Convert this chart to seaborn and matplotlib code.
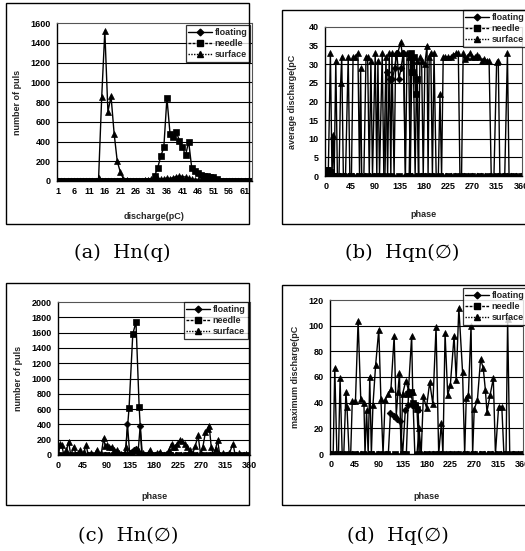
import matplotlib
matplotlib.use("Agg")
import matplotlib.pyplot as plt
import matplotlib.patches as mpatches
import seaborn as sns
import pandas as pd

sns.set_theme(style="white")
plt.rcParams['font.family'] = ['Liberation Sans', 'DejaVu Sans']

# ---------------- (a) Hn(q) ----------------
cat_a = [1, 2, 3, 4, 5, 6, 7, 8, 9, 10, 11, 12, 13, 14, 15, 16, 17, 18, 19, 20,
         21, 22, 23, 24, 25, 26, 27, 28, 29, 30, 31, 32, 33, 34, 35, 36, 37, 38, 39, 40,
         41, 42, 43, 44, 45, 46, 47, 48, 49, 50, 51, 52, 53, 54, 55, 56, 57, 58, 59, 60,
         61, 62, 63]
floating_a = [0, 0, 0, 0, 0, 0, 0, 0, 0, 0, 0, 0, 0, 0, 0, 0, 0, 0, 0, 0,
              0, 0, 0, 0, 0, 0, 0, 0, 0, 0, 0, 0, 0, 0, 0, 0, 0, 0, 0, 0,
              0, 0, 0, 0, 0, 0, 0, 0, 0, 0, 0, 0, 0, 0, 0, 0, 0, 0, 0, 0,
              0, 0, 0]
needle_a = [0, 0, 0, 0, 0, 0, 0, 0, 0, 0, 0, 0, 0, 0, 0, 0, 0, 0, 0, 0,
            0, 0, 0, 0, 0, 0, 0, 0, 0, 0, 0, 50, 130, 250, 340, 840, 480, 450, 500, 410,
            340, 260, 400, 130, 100, 80, 60, 55, 50, 45, 40, 20, 5, 0, 0, 0, 0, 0, 0, 0,
            0, 0, 0]
surface_a = [0, 0, 0, 0, 0, 0, 0, 0, 0, 0, 0, 0, 0, 30, 850, 1520, 700, 860, 480, 200,
             90, 20, 10, 5, 5, 5, 5, 5, 10, 10, 20, 30, 25, 20, 25, 30, 25, 35, 45, 50,
             45, 40, 30, 20, 10, 5, 0, 0, 0, 0, 0, 0, 0, 0, 0, 0, 0, 0, 0, 0,
             0, 0, 0]

# ---------------- (b) Hqn(phase) ----------------
ph_b_float = [0, 8, 16, 24, 32, 40, 48, 56, 64, 72, 80, 88, 96, 104, 108, 112, 118, 122, 126, 130,
              134, 138, 142, 146, 150, 158, 166, 174, 182, 190, 198, 206, 214, 222, 230, 238, 246, 254, 262, 270,
              278, 286, 294, 302, 310, 318, 326, 334, 342, 350, 360]
floating_b = [0, 0, 0, 0, 0, 0, 0, 0, 0, 0, 0, 0, 0, 0, 0, 28, 26, 26, 29, 33,
              26, 29, 33, 0, 0, 0, 0, 0, 0, 0, 0, 0, 0, 0, 0, 0, 0, 0, 0, 0,
              0, 0, 0, 0, 0, 0, 0, 0, 0, 0, 0]
ph_b_needle = [0, 2, 5, 8, 11, 20, 30, 45, 60, 75, 90, 105, 120, 135, 150, 153, 156, 159, 162, 165,
               168, 171, 180, 195, 210, 225, 240, 255, 270, 285, 300, 315, 330, 345, 360]
needle_b = [1.5, 1.5, 1.2, 1, 0, 0, 0, 0, 0, 0, 0, 0, 0, 0, 0, 0, 33, 28, 32, 22,
            26, 0, 0, 0, 0, 0, 0, 0, 0, 0, 0, 0, 0, 0, 0]
ph_b_surf = [0, 3, 7, 10, 12, 14, 17, 20, 23, 26,
             28, 31, 35, 40, 43, 46, 49, 53, 58, 61,
             63, 65, 69, 73, 76, 79, 82, 85, 90, 93,
             95, 98, 103, 106, 110, 113, 116, 119, 121, 125,
             128, 132, 137, 140, 143, 146, 149, 152, 155, 158,
             161, 164, 167, 170, 173, 176, 179, 182, 186, 188,
             190, 193, 196, 199, 203, 207, 210, 213, 216, 220,
             225, 230, 234, 240, 244, 247, 250, 253, 256, 260,
             265, 270, 274, 279, 283, 287, 292, 297, 301, 305,
             310, 315, 318, 321, 324, 330, 335, 338, 345, 352,
             360]
surface_b = [0, 0, 33, 0, 11, 0, 31, 0, 0, 25,
             32, 0, 0, 32, 0, 0, 32, 32, 33, 0,
             29, 0, 0, 32, 32, 0, 31, 0, 33, 0,
             31, 0, 33, 0, 32, 0, 33, 0, 33, 0,
             33, 33, 36, 33, 33, 0, 33, 32, 0, 32,
             28, 0, 31, 0, 32, 31, 0, 30, 35, 0,
             32, 33, 0, 33, 0, 0, 22, 0, 32, 32,
             32, 32, 32.5, 33, 33, 0, 0, 33, 31.5, 32,
             33, 32, 32, 32.5, 32, 31, 31.5, 31, 31, 0,
             0, 30.5, 31, 0, 0, 0, 33, 0, 0, 0,
             0]

# ---------------- (c) Hn(phase) ----------------
ph_c_float = [0, 8, 16, 24, 32, 40, 48, 56, 64, 72, 80, 88, 96, 104, 112, 120, 126, 130, 134, 138,
              142, 146, 150, 154, 158, 166, 174, 182, 190, 198, 206, 214, 222, 230, 238, 246, 254, 262, 270, 278,
              286, 294, 302, 310, 318, 326, 334, 342, 350, 360]
floating_c = [0, 0, 0, 0, 0, 0, 0, 0, 0, 0, 0, 0, 0, 0, 0, 0, 0, 400, 30, 40,
              60, 80, 40, 380, 0, 0, 0, 0, 0, 0, 0, 0, 0, 0, 0, 0, 0, 0, 0, 0,
              0, 0, 0, 0, 0, 0, 0, 0, 0, 0]
ph_c_needle = [0, 15, 30, 45, 60, 75, 90, 105, 120, 126, 133, 140, 146, 152, 157, 165, 180, 195, 210, 225,
               240, 255, 270, 285, 300, 315, 330, 345, 360]
needle_c = [0, 0, 0, 0, 0, 0, 0, 0, 0, 0, 620, 1580, 1740, 630, 0, 0, 0, 0, 0, 0,
            0, 0, 0, 0, 0, 0, 0, 0, 0]
ph_c_surf = [0, 3, 6, 10, 15, 19, 23, 29, 33, 37,
             41, 45, 48, 52, 56, 62, 67, 72, 77, 81,
             85, 88, 91, 95, 100, 105, 110, 114, 118, 123,
             128, 132, 138, 145, 150, 154, 160, 166, 172, 178,
             185, 191, 196, 202, 208, 213, 216, 219, 224, 229,
             233, 238, 242, 247, 252, 258, 263, 268, 272, 277,
             281, 284, 288, 292, 296, 300, 304, 310, 316, 322,
             329, 333, 340, 347, 354, 360]
surface_c = [0, 150, 130, 0, 60, 175, 0, 110, 0, 30,
             65, 0, 40, 130, 0, 20, 0, 65, 0, 30,
             220, 120, 130, 100, 110, 60, 65, 30, 10, 0,
             110, 0, 30, 50, 60, 0, 20, 0, 65, 0,
             20, 45, 0, 10, 60, 150, 100, 110, 150, 195,
             180, 150, 100, 65, 0, 120, 260, 0, 100, 300,
             340, 380, 100, 0, 80, 190, 0, 30, 0, 20,
             150, 0, 20, 0, 15, 0]

# ---------------- (d) Hq(phase) ----------------
ph_d_float = [0, 8, 16, 24, 32, 40, 48, 56, 64, 72, 80, 88, 96, 104, 108, 112, 118, 124, 130, 135,
              140, 146, 152, 158, 164, 168, 176, 184, 192, 200, 208, 216, 224, 232, 240, 248, 256, 264, 272, 280,
              288, 296, 304, 312, 320, 328, 336, 344, 352, 360]
floating_d = [0, 0, 0, 0, 0, 0, 0, 0, 0, 0, 0, 0, 0, 0, 0, 32, 30, 27, 26, 0,
              34, 38, 38, 38, 34, 0, 0, 0, 0, 0, 0, 0, 0, 0, 0, 0, 0, 0, 0, 0,
              0, 0, 0, 0, 0, 0, 0, 0, 0, 0]
ph_d_needle = [0, 15, 30, 45, 60, 75, 90, 105, 120, 135, 142, 146, 150, 154, 158, 162, 166, 180, 195, 210,
               225, 240, 255, 270, 285, 300, 315, 330, 345, 360]
needle_d = [0, 0, 0, 0, 0, 0, 0, 0, 0, 0, 0, 47, 48, 40, 38, 35, 0, 0, 0, 0,
            0, 0, 0, 0, 0, 0, 0, 0, 0, 0]
ph_d_surf = [0, 4, 7, 11, 14, 17, 21, 24, 28, 30,
             34, 37, 40, 46, 51, 56, 62, 64, 67, 70,
             73, 76, 79, 84, 90, 94, 98, 102, 108, 113,
             119, 123, 126, 129, 132, 135, 141, 146, 152, 154,
             158, 162, 166, 170, 174, 180, 186, 192, 198, 203,
             208, 211, 215, 220, 225, 232, 236, 241, 248, 252,
             255, 259, 264, 267, 270, 276, 282, 287, 291, 294,
             300, 306, 310, 316, 322, 326, 330, 333, 337, 345,
             352, 360]
surface_d = [0, 0, 67, 0, 0, 59, 0, 0, 48, 37,
             0, 0, 41, 41, 104, 43, 40, 0, 34, 0,
             60, 0, 38, 69, 97, 43, 0, 42, 47, 51,
             92, 30, 48, 63, 0, 47, 57, 50, 92, 48,
             0, 0, 20, 0, 45, 36, 56, 39, 99, 0,
             24, 0, 94, 46, 54, 92, 58, 114, 64, 0,
             44, 46, 100, 0, 35, 42, 74, 67, 50, 33,
             46, 59, 0, 37, 37, 0, 0, 105, 0, 0,
             0, 0]

series_names = ['floating', 'needle', 'surface']
phase_ticks = [0, 45, 90, 135, 180, 225, 270, 315, 360]
cat_ticks = [1, 6, 11, 16, 21, 26, 31, 36, 41, 46, 51, 56, 61]

W, H = 525, 551
fig = plt.figure(figsize=(W / 100, H / 100), dpi=100)
fig.patch.set_facecolor('white')


def ax_at(l, t, r, b):
    return fig.add_axes([l / W, 1 - b / H, (r - l) / W, (b - t) / H])


MK = {'floating': 'D', 'needle': 's', 'surface': '^'}
MS = {'floating': 3.4, 'needle': 3.8, 'surface': 4.4}
LS = {'floating': '-', 'needle': (0, (2, 1)), 'surface': (0, (1, 1))}


def draw(ax, data, xlim, ylim, xticks, yticks, xlabel, ylabel,
         ylab_off, xlab_off, leg_right, leg_top, ax_px):
    for name in series_names:
        xs, ys = data[name]
        df = pd.DataFrame({'x': xs, 'y': ys})
        sns.lineplot(data=df, x='x', y='y', ax=ax, color='black', linewidth=1.0,
                     marker=MK[name], markersize=MS[name], markeredgecolor='black',
                     markerfacecolor='black', markeredgewidth=0.5,
                     estimator=None, sort=True, label=name, clip_on=True)
    ax.set_xlim(*xlim)
    ax.set_ylim(*ylim)
    ax.set_xticks(xticks)
    ax.set_yticks(yticks)
    for y in yticks[1:-1]:
        ax.axhline(y, color='black', lw=0.8, zorder=0.5)
    ax.set_xlabel(xlabel, fontsize=6.5, fontweight='bold')
    ax.set_ylabel(ylabel, fontsize=6.5, fontweight='bold')
    w, h = ax_px
    ax.yaxis.set_label_coords(-ylab_off / w, 0.5)
    ax.xaxis.set_label_coords(0.5, -xlab_off / h)
    ax.tick_params(axis='both', labelsize=6.5, length=2, width=0.6, pad=2.5,
                   direction='out', colors='black')
    for lbl in ax.get_xticklabels() + ax.get_yticklabels():
        lbl.set_fontweight('bold')
    for s in ['left', 'bottom']:
        ax.spines[s].set_color('black')
        ax.spines[s].set_linewidth(1.0)
    for s in ['top', 'right']:
        ax.spines[s].set_color('#555555')
        ax.spines[s].set_linewidth(0.8)
        ax.spines[s].set_linestyle((0, (1, 1)))
    ax.set_facecolor('white')
    handles = [plt.Line2D([], [], color='black', lw=1.0, ls=LS[n], marker=MK[n],
                          markersize=MS[n], markerfacecolor='black', markeredgecolor='black')
               for n in series_names]
    leg = ax.legend(handles, series_names, loc='upper right',
                    bbox_to_anchor=(leg_right / W, 1 - leg_top / H),
                    bbox_transform=fig.transFigure, frameon=True, fancybox=False,
                    borderaxespad=0, borderpad=0.3, labelspacing=0.25,
                    handlelength=2.6, handletextpad=0.3,
                    prop={'size': 6.5, 'weight': 'bold'})
    leg.get_frame().set_edgecolor('black')
    leg.get_frame().set_linewidth(0.9)


# panel boxes
for (l, t, r, b) in [(6, 3, 249, 224), (282, 10, 530, 224),
                     (6, 283, 249, 505), (282, 285, 530, 505)]:
    fig.add_artist(mpatches.Rectangle((l / W, 1 - b / H), (r - l) / W, (b - t) / H,
                                      transform=fig.transFigure, fill=False,
                                      edgecolor='black', lw=1.0))

ax_a = ax_at(57, 23, 252, 181)
draw(ax_a, {'floating': (cat_a, floating_a), 'needle': (cat_a, needle_a),
            'surface': (cat_a, surface_a)},
     (0.6, 63.4), (0, 1600), cat_ticks, [0, 200, 400, 600, 800, 1000, 1200, 1400, 1600],
     'discharge(pC)', 'number of puls', 35, 31, 250, 25, (195, 158))

ax_b = ax_at(325, 27, 522, 176)
draw(ax_b, {'floating': (ph_b_float, floating_b), 'needle': (ph_b_needle, needle_b),
            'surface': (ph_b_surf, surface_b)},
     (-3, 362), (0, 40), phase_ticks, [0, 5, 10, 15, 20, 25, 30, 35, 40],
     'phase', 'average discharge(pC', 28, 34, 527, 10, (197, 149))

ax_c = ax_at(58, 302, 250, 455)
draw(ax_c, {'floating': (ph_c_float, floating_c), 'needle': (ph_c_needle, needle_c),
            'surface': (ph_c_surf, surface_c)},
     (-1, 361), (0, 2000), phase_ticks,
     [0, 200, 400, 600, 800, 1000, 1200, 1400, 1600, 1800, 2000],
     'phase', 'number of puls', 35, 37, 248, 302, (192, 153))

ax_d = ax_at(330, 300, 523, 454)
draw(ax_d, {'floating': (ph_d_float, floating_d), 'needle': (ph_d_needle, needle_d),
            'surface': (ph_d_surf, surface_d)},
     (-2, 362), (0, 120), phase_ticks, [0, 20, 40, 60, 80, 100, 120],
     'phase', 'maximum discharge(pC', 30, 38, 527, 288, (193, 154))

cap_font = dict(fontsize=14, family=['DejaVu Serif', 'DejaVu Sans'],
                ha='center', va='center', color='black')
fig.text(122 / W, 1 - 253 / H, '(a)  Hn(q)', **cap_font)
fig.text(402 / W, 1 - 253 / H, '(b)  Hqn(\u2205)', **cap_font)
fig.text(128 / W, 1 - 536 / H, '(c)  Hn(\u2205)', **cap_font)
fig.text(398 / W, 1 - 536 / H, '(d)  Hq(\u2205)', **cap_font)

fig.savefig('out.png', dpi=100, facecolor='white')
